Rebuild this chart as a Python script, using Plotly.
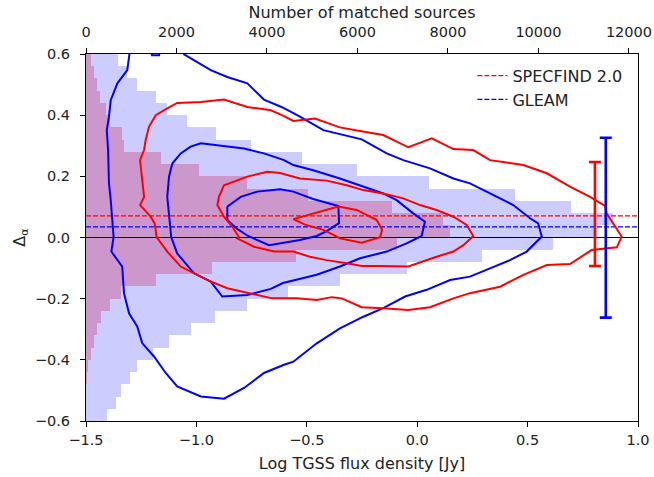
import numpy as np
import plotly.graph_objects as go

# ---------------- data ----------------
bin_edges = np.round(np.arange(-0.60, 0.6001, 0.04), 2)
bin_centers = (bin_edges[:-1] + bin_edges[1:]) / 2
bin_width = 0.04

# histogram counts (bottom bin -> top bin)
gleam_counts = [471, 656, 767, 973, 1135, 1481, 1835, 2329, 2852, 3567,
                4473, 5616, 7090, 8748, 10330, 11300, 11645, 10716, 9485, 7584,
                5985, 4769, 3640, 2867, 2240, 1800, 1540, 1135, 900, 715]
specfind_counts = [0, 0, 10, 20, 44, 103, 177, 250, 324, 530,
                   767, 1540, 2793, 4643, 6870, 8048, 7900, 6758, 4915, 3567,
                   2498, 1651, 840, 800, 530, 435, 310, 236, 177, 118]

count_ticks = [0, 2000, 4000, 6000, 8000, 10000, 12000]
flux_ticks = [-1.5, -1.0, -0.5, 0.0, 0.5, 1.0]
alpha_ticks = [-0.6, -0.4, -0.2, 0.0, 0.2, 0.4, 0.6]

specfind_mean = 0.071
gleam_mean = 0.035

# error bars: x position, centre, half-length
specfind_err_x, specfind_err_y, specfind_err = 0.805, 0.077, 0.170
gleam_err_x, gleam_err_y, gleam_err = 0.854, 0.032, 0.294

# density contours (log flux, delta alpha)
gleam_c1_x = [-1.138, -1.083, -1.056, -0.935, -0.860, -0.769, -0.694, -0.612, -0.531, -0.425,
              -0.251, -0.138, -0.063, 0.058, 0.164, 0.239, 0.330, 0.435, 0.511, 0.548,
              0.564, 0.496, 0.420, 0.330, 0.239, 0.149, 0.043, -0.055, -0.154, -0.244,
              -0.350, -0.455, -0.561, -0.603, -0.694, -0.784, -0.875, -0.980, -1.087, -1.139,
              -1.192, -1.245, -1.268, -1.305, -1.328, -1.336, -1.385, -1.375, -1.381, -1.388,
              -1.396, -1.400, -1.406, -1.396, -1.388, -1.358, -1.313, -1.305, -1.292, -1.225,
              -1.201, -1.169, -1.145, -1.138]
gleam_c1_y = [0.660, 0.660, 0.599, 0.547, 0.525, 0.504, 0.451, 0.426, 0.395, 0.351,
              0.321, 0.275, 0.253, 0.226, 0.193, 0.177, 0.144, 0.106, 0.063, 0.046,
              0.003, -0.046, -0.074, -0.101, -0.128, -0.139, -0.171, -0.193, -0.231, -0.259,
              -0.297, -0.346, -0.406, -0.416, -0.443, -0.492, -0.527, -0.520, -0.487, -0.443,
              -0.389, -0.346, -0.291, -0.248, -0.182, -0.095, -0.046, 0.002, 0.068, 0.122,
              0.178, 0.286, 0.351, 0.395, 0.449, 0.504, 0.547, 0.599, 0.660, 0.660,
              0.596, 0.596, 0.660, 0.660]

gleam_c2_x = [-1.114, -1.124, -1.132, -1.124, -1.109, -1.071, -1.026, -0.980, -0.905, -0.784,
              -0.694, -0.603, -0.561, -0.471, -0.350, -0.259, -0.154, -0.093, -0.018, 0.035,
              0.020, -0.048, -0.138, -0.259, -0.350, -0.455, -0.546, -0.608, -0.663, -0.769,
              -0.883, -0.935, -1.011, -1.087, -1.114]
gleam_c2_y = [0.001, 0.068, 0.133, 0.199, 0.242, 0.275, 0.297, 0.308, 0.302, 0.291,
              0.275, 0.253, 0.237, 0.220, 0.193, 0.171, 0.144, 0.122, 0.079, 0.052,
              0.005, -0.019, -0.046, -0.068, -0.095, -0.122, -0.137, -0.149, -0.168, -0.188,
              -0.193, -0.144, -0.117, -0.052, 0.001]

gleam_c3_x = [-0.860, -0.799, -0.724, -0.621, -0.561, -0.471, -0.357, -0.354, -0.410, -0.455,
              -0.531, -0.603, -0.671, -0.766, -0.815, -0.860, -0.860]
gleam_c3_y = [0.101, 0.133, 0.150, 0.158, 0.150, 0.126, 0.103, 0.047, 0.021, 0.005,
              -0.008, -0.017, -0.025, 0.005, 0.028, 0.057, 0.101]

specfind_c1_x = [-1.180, -1.189, -1.207, -1.255, -1.237, -1.245, -1.255, -1.237, -1.230, -1.215,
                 -1.184, -1.132, -1.087, -0.980, -0.875, -0.769, -0.663, -0.612, -0.561, -0.463,
                 -0.350, -0.259, -0.154, -0.040, 0.066, 0.164, 0.254, 0.330, 0.481, 0.587,
                 0.692, 0.783, 0.851, 0.858, 0.904, 0.926, 0.904, 0.790, 0.692, 0.587,
                 0.481, 0.375, 0.239, 0.164, 0.058, -0.040, -0.154, -0.251, -0.342, -0.387,
                 -0.455, -0.546, -0.656, -0.769, -0.860, -0.935, -0.996, -1.071, -1.132, -1.177,
                 -1.180]
specfind_c1_y = [0.001, 0.046, 0.068, 0.106, 0.133, 0.188, 0.253, 0.286, 0.318, 0.362,
                 0.400, 0.422, 0.440, 0.443, 0.451, 0.427, 0.416, 0.400, 0.381, 0.389,
                 0.360, 0.348, 0.335, 0.295, 0.324, 0.289, 0.286, 0.253, 0.237, 0.210,
                 0.166, 0.133, 0.103, 0.079, 0.025, 0.003, -0.032, -0.041, -0.087, -0.090,
                 -0.122, -0.161, -0.182, -0.199, -0.228, -0.237, -0.231, -0.228, -0.199, -0.195,
                 -0.204, -0.199, -0.199, -0.182, -0.166, -0.144, -0.122, -0.095, -0.046, -0.003,
                 0.001]

specfind_c2_x = [-0.807, -0.837, -0.875, -0.905, -0.898, -0.875, -0.769, -0.679, -0.621, -0.531,
                 -0.410, -0.319, -0.244, -0.154, -0.063, 0.013, 0.088, 0.164, 0.224, 0.254,
                 0.209, 0.164, 0.088, 0.028, -0.040, -0.168, -0.251, -0.319, -0.410, -0.486,
                 -0.561, -0.649, -0.739, -0.815, -0.807]
specfind_c2_y = [0.001, 0.035, 0.068, 0.106, 0.133, 0.171, 0.199, 0.215, 0.211, 0.193,
                 0.186, 0.171, 0.155, 0.144, 0.128, 0.106, 0.090, 0.068, 0.041, 0.005,
                 -0.025, -0.046, -0.063, -0.079, -0.095, -0.093, -0.093, -0.084, -0.074, -0.063,
                 -0.046, -0.046, -0.030, -0.003, 0.001]

specfind_c3_x = [-0.561, -0.357, -0.274, -0.183, -0.159, -0.168, -0.251, -0.350, -0.386, -0.425,
                 -0.508, -0.561]
specfind_c3_y = [0.060, 0.101, 0.090, 0.057, 0.025, 0.001, -0.017, -0.003, 0.011, 0.025,
                 0.042, 0.060]

# ---------------- figure ----------------
RED = "#ff0000"
BLUE = "#0000ff"
FONT = "DejaVu Sans"

fig = go.Figure()

# histograms (counts on the top axis)
fig.add_trace(go.Bar(x=specfind_counts, y=bin_centers, orientation="h", width=bin_width,
                     marker=dict(color="rgba(255,0,0,0.25)", line=dict(width=0)),
                     xaxis="x", yaxis="y", showlegend=False, hoverinfo="skip"))
fig.add_trace(go.Bar(x=gleam_counts, y=bin_centers, orientation="h", width=bin_width,
                     marker=dict(color="rgba(0,0,255,0.2)", line=dict(width=0)),
                     xaxis="x", yaxis="y", showlegend=False, hoverinfo="skip"))

xr = [-1.5, 1.0]
# zero line
fig.add_trace(go.Scatter(x=xr, y=[0, 0], mode="lines", line=dict(color="black", width=1.2),
                         xaxis="x2", yaxis="y", showlegend=False, hoverinfo="skip"))
# mean lines
fig.add_trace(go.Scatter(x=xr, y=[specfind_mean] * 2, mode="lines", name="SPECFIND 2.0",
                         line=dict(color=RED, width=1.2, dash="5px,2px"), xaxis="x2", yaxis="y"))
fig.add_trace(go.Scatter(x=xr, y=[gleam_mean] * 2, mode="lines", name="GLEAM",
                         line=dict(color=BLUE, width=1.2, dash="5px,2px"), xaxis="x2", yaxis="y"))

# contours
for cx, cy, col in [(gleam_c1_x, gleam_c1_y, BLUE), (gleam_c2_x, gleam_c2_y, BLUE),
                    (gleam_c3_x, gleam_c3_y, BLUE), (specfind_c1_x, specfind_c1_y, RED),
                    (specfind_c2_x, specfind_c2_y, RED), (specfind_c3_x, specfind_c3_y, RED)]:
    fig.add_trace(go.Scatter(x=cx, y=cy, mode="lines", line=dict(color=col, width=2),
                             xaxis="x2", yaxis="y", showlegend=False, hoverinfo="skip"))

# error bars
for ex, ey, ee, col in [(specfind_err_x, specfind_err_y, specfind_err, RED),
                        (gleam_err_x, gleam_err_y, gleam_err, BLUE)]:
    fig.add_trace(go.Scatter(x=[ex], y=[ey], mode="markers", marker=dict(size=0.1, color=col),
                             error_y=dict(type="data", array=[ee], color=col, thickness=2.6, width=6),
                             xaxis="x2", yaxis="y", showlegend=False, hoverinfo="skip"))

axis_common = dict(showgrid=False, zeroline=False, showline=True, linecolor="black", linewidth=1,
                   ticks="outside", ticklen=5, tickwidth=1, tickcolor="black", automargin=False,
                   tickfont=dict(family=FONT, size=14.5, color="#222"))

fig.update_layout(
    width=654, height=477,
    margin=dict(l=86, r=16, t=54, b=56, autoexpand=False),
    paper_bgcolor="white", plot_bgcolor="white",
    barmode="overlay", bargap=0,
    font=dict(family=FONT, color="#222"),
    xaxis=dict(range=[0, 12200], side="top", tickvals=count_ticks,
               ticktext=[str(t) for t in count_ticks], ticklabelstandoff=5,
               title=dict(text="Number of matched sources", font=dict(family=FONT, size=16), standoff=1),
               **axis_common),
    xaxis2=dict(range=xr, overlaying="x", side="bottom", tickvals=flux_ticks,
                tickformat=".1f", ticklabelstandoff=1,
                title=dict(text="Log TGSS flux density [Jy]", font=dict(family=FONT, size=16), standoff=10),
                **axis_common),
    yaxis=dict(range=[-0.6, 0.6], tickvals=alpha_ticks, tickformat=".1f",
               mirror=True, ticklabelstandoff=7,
               title=dict(text="Δ<sub>α</sub>", font=dict(family=FONT, size=16), standoff=5),
               **axis_common),
    legend=dict(x=0.70, y=0.987, xanchor="left", yanchor="top", bgcolor="rgba(0,0,0,0)",
                font=dict(family=FONT, size=16, color="#222"), tracegroupgap=4),
    showlegend=True,
)

fig.write_html("out.html", config={"displayModeBar": False},
               post_script="document.body.style.margin='0px';document.body.style.overflow='hidden';")
